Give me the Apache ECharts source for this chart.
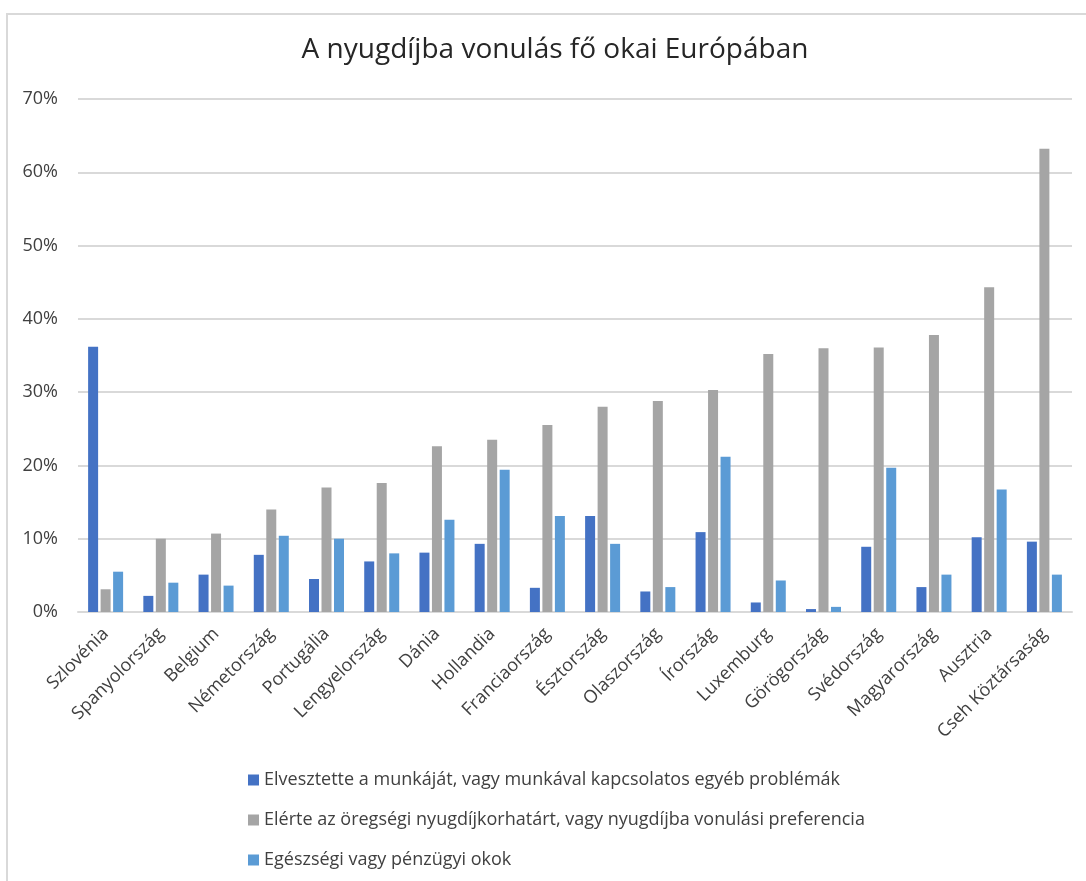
<!DOCTYPE html>
<html>
<head>
<meta charset="utf-8">
<title>A nyugdíjba vonulás fő okai Európában</title>
<script src="https://cdn.jsdelivr.net/npm/echarts@6/dist/echarts.min.js"></script>
<style>
  html, body { margin: 0; padding: 0; background: #fff; }
  #chart { width: 1086px; height: 881px; }
</style>
</head>
<body>
<div id="chart"></div>
<script>
// Countries, left to right
const countries = [
  'Szlovénia', 'Spanyolország', 'Belgium', 'Németország', 'Portugália',
  'Lengyelország', 'Dánia', 'Hollandia', 'Franciaország', 'Észtország',
  'Olaszország', 'Írország', 'Luxemburg', 'Görögország', 'Svédország',
  'Magyarország', 'Ausztria', 'Cseh Köztársaság'
];

// Share of retirees by main reason (%)
const jobLoss = [36.2, 2.2, 5.1, 7.8, 4.5, 6.9, 8.1, 9.3, 3.3, 13.1, 2.8, 10.9, 1.3, 0.4, 8.9, 3.4, 10.2, 9.6];
const pensionAge = [3.1, 10.0, 10.7, 14.0, 17.0, 17.6, 22.6, 23.5, 25.5, 28.0, 28.8, 30.3, 35.2, 36.0, 36.1, 37.8, 44.3, 63.2];
const healthFinance = [5.5, 4.0, 3.6, 10.4, 10.0, 8.0, 12.6, 19.4, 13.1, 9.3, 3.4, 21.2, 4.3, 0.7, 19.7, 5.1, 16.7, 5.1];

const seriesNames = [
  'Elvesztette a munkáját, vagy munkával kapcsolatos egyéb problémák',
  'Elérte az öregségi nyugdíjkorhatárt, vagy nyugdíjba vonulási preferencia',
  'Egészségi vagy pénzügyi okok'
];

const yTicks = [0, 10, 20, 30, 40, 50, 60, 70];

const FONT = '"Open Sans", Lato, sans-serif';
const colors = ['#4472C4', '#A5A5A5', '#5B9BD5'];

const chart = echarts.init(document.getElementById('chart'), null, { renderer: 'canvas' });

function barSeries(name, data, color) {
  return {
    name: name,
    type: 'bar',
    data: data,
    barWidth: 10,
    barGap: '25%',
    itemStyle: { color: color },
    emphasis: { disabled: true }
  };
}

chart.setOption({
  animation: false,
  color: colors,
  textStyle: { fontFamily: FONT },
  graphic: [{
    type: 'rect',
    shape: { x: 7, y: 14, width: 1200, height: 1000 },
    style: { fill: 'none', stroke: '#D9D9D9', lineWidth: 2 },
    silent: true,
    z: -1
  }],
  title: {
    text: 'A nyugdíjba vonulás fő okai Európában',
    left: 550,
    textAlign: 'center',
    top: 31,
    textStyle: { fontFamily: FONT, fontSize: 28, fontWeight: 'normal', color: '#262626' }
  },
  grid: { left: 78, right: 14, top: 99, bottom: 269, containLabel: false },
  legend: {
    orient: 'vertical',
    left: 243,
    top: 766,
    itemWidth: 11,
    itemHeight: 11,
    itemGap: 22,
    icon: 'rect',
    selectedMode: false,
    textStyle: { fontFamily: FONT, fontSize: 18, color: '#404040' },
    data: seriesNames
  },
  xAxis: {
    type: 'category',
    data: countries,
    axisLine: { show: true, lineStyle: { color: '#D9D9D9', width: 2 } },
    axisTick: { show: false },
    axisLabel: {
      rotate: 45,
      interval: 0,
      margin: 19,
      fontFamily: FONT,
      fontSize: 18,
      color: '#404040'
    }
  },
  yAxis: {
    type: 'value',
    min: yTicks[0],
    max: yTicks[yTicks.length - 1],
    interval: 10,
    axisLine: { show: false },
    axisTick: { show: false },
    splitLine: { lineStyle: { color: '#D9D9D9', width: 2 } },
    axisLabel: {
      margin: 20,
      fontFamily: FONT,
      fontSize: 18,
      color: '#404040',
      formatter: v => v + '%'
    }
  },
  series: [
    barSeries(seriesNames[0], jobLoss, colors[0]),
    barSeries(seriesNames[1], pensionAge, colors[1]),
    barSeries(seriesNames[2], healthFinance, colors[2])
  ]
});
</script>
</body>
</html>
